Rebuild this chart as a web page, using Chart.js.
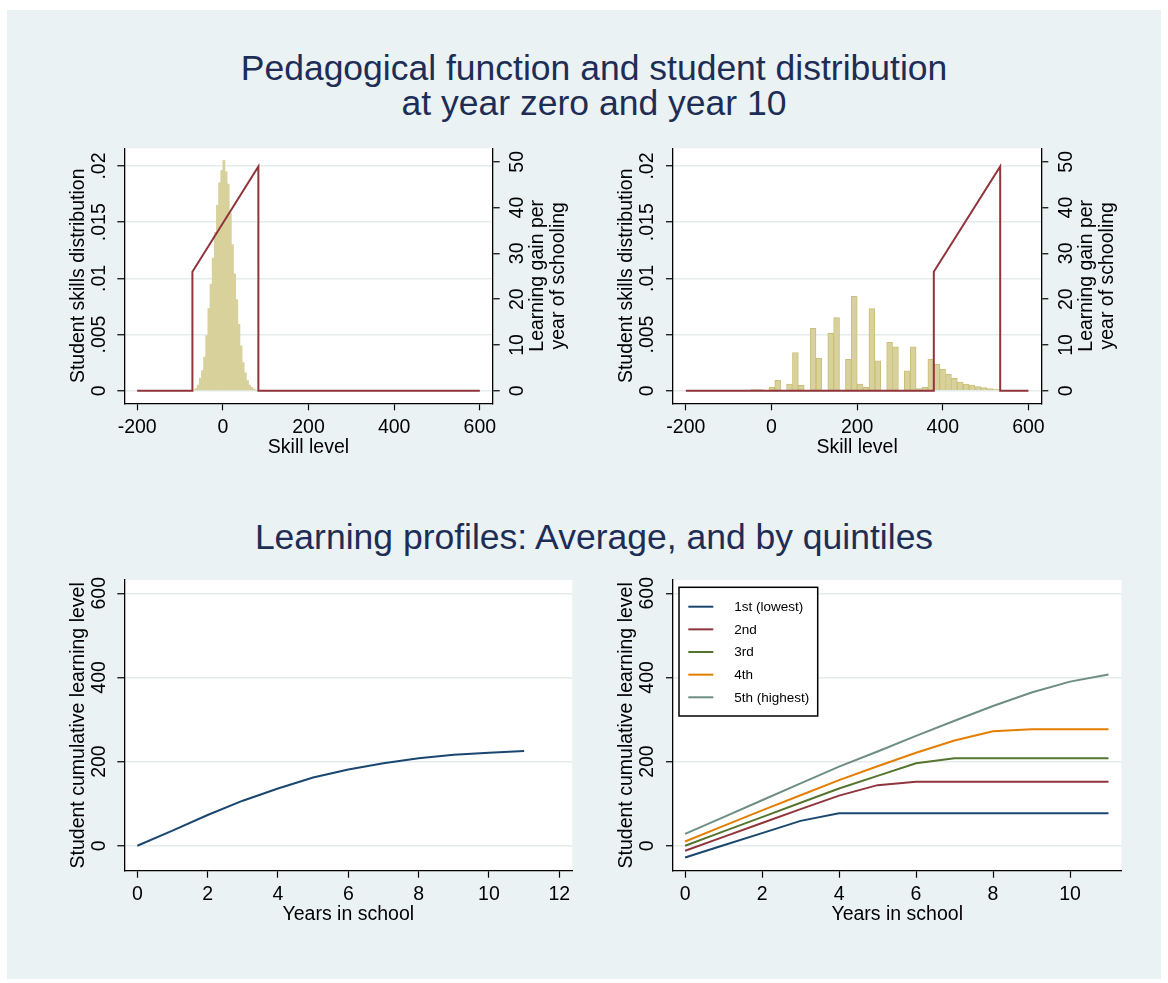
<!DOCTYPE html>
<html>
<head>
<meta charset="utf-8">
<script src="https://cdn.jsdelivr.net/npm/chart.js@4.4.1/dist/chart.umd.min.js"></script>
<style>
  body { margin: 0; background: #fff; width: 1168px; height: 983px; position: relative; overflow: hidden;
         font-family: "Liberation Sans", Arial, sans-serif; }
  #bg { position: absolute; left: 7px; top: 10px; width: 1154px; height: 969px; background: #eaf2f3; }
  .title { position: absolute; left: 0; width: 1188px; text-align: center; color: #1e2d55;
           font-size: 35.5px; line-height: 36px; white-space: nowrap; }
  canvas { position: absolute; }
</style>
</head>
<body>
<div id="bg"></div>
<div class="title" style="top:50px">Pedagogical function and student distribution</div>
<div class="title" style="top:85px">at year zero and year 10</div>
<div class="title" style="top:519px">Learning profiles: Average, and by quintiles</div>
<canvas id="c1" width="560" height="340" style="left:40px;top:140px"></canvas>
<canvas id="c2" width="575" height="340" style="left:590px;top:140px"></canvas>
<canvas id="c3" width="560" height="400" style="left:40px;top:570px"></canvas>
<canvas id="c4" width="570" height="400" style="left:590px;top:570px"></canvas>
<script>
// ---- data ----
const skillTicks = [-200, 0, 200, 400, 600];
const densTicks = [0, 0.005, 0.01, 0.015, 0.02];
const densTickLabels = ['0', '.005', '.01', '.015', '.02'];
const gainTicks = [0, 10, 20, 30, 40, 50];
const levelTicks = [0, 200, 400, 600];
const yearTicksAvg = [0, 2, 4, 6, 8, 10, 12];
const yearTicksQ = [0, 2, 4, 6, 8, 10];

// year zero histogram (bin centres, density)
const skillBins0 = [-67.5, -62.5, -57.5, -52.5, -47.5, -42.5, -37.5, -32.5, -27.5, -22.5,
                    -17.5, -12.5, -7.5, -2.5, 2.5, 7.5, 12.5, 17.5, 22.5, 27.5,
                    32.5, 37.5, 42.5, 47.5, 52.5, 57.5, 62.5, 67.5, 72.5, 77.5];
const density0 = [0.00005, 0.0002, 0.0005, 0.0011, 0.0018, 0.0030, 0.0049, 0.0073, 0.0095, 0.0118,
                  0.0141, 0.0165, 0.0185, 0.0196, 0.0205, 0.0195, 0.0184, 0.0158, 0.0130, 0.0104,
                  0.0081, 0.0059, 0.0040, 0.0025, 0.0016, 0.0009, 0.0005, 0.0003, 0.00015, 0.00005];

// year 10 histogram
const skillBins10 = [-40.5, -26.7, -13, 0.8, 14.5, 28.3, 42, 55.8, 69.5, 83.3,
                     97, 110.8, 124.5, 138.3, 152, 165.8, 179.5, 193.3, 207, 220.8,
                     234.5, 248.3, 262, 275.8, 289.5, 303.3, 317, 330.8, 344.5, 358.3,
                     372, 385.8, 399.5, 413.3, 427, 440.8, 454.5, 468.3, 482, 495.8,
                     509.5, 523.3];
const density10 = [0.0001, 0.0001, 0.00005, 0.0003, 0.00092, 0, 0.0006, 0.0034, 0.00047, 0,
                   0.00555, 0.0029, 0, 0.0051, 0.0065, 0, 0.0028, 0.0084, 0.0006, 0.0003,
                   0.0073, 0.00267, 0, 0.0043, 0.0039, 0, 0.00178, 0.0039, 0.0002, 0.0003,
                   0.0028, 0.00238, 0.00193, 0.00149, 0.00113, 0.00077, 0.0006, 0.00051, 0.00036, 0.00027,
                   0.00018, 0.00015];

// pedagogical function
const pedSkill0 = [-200, -71, -71, 83, 83, 600];
const pedSkill10 = [-200, 379, 379, 534, 534, 600];
const pedGain = [0, 0, 26, 49, 0, 0];

// learning profiles
const years = [0, 1, 2, 3, 4, 5, 6, 7, 8, 9, 10, 11];
const avgLevel = [0, 36, 73, 107, 136, 162, 181, 196, 208, 216, 221, 225];
const quintileNames = ['1st (lowest)', '2nd', '3rd', '4th', '5th (highest)'];
const q1 = [-28, 1, 30, 59, 77, 77, 77, 77, 77, 77, 77, 77];
const q2 = [-12, 21, 54, 87, 119, 144, 152, 152, 152, 152, 152, 152];
const q3 = [0, 34, 68, 102, 136, 166, 196, 208, 208, 208, 208, 208];
const q4 = [10, 47, 84, 120, 156, 189, 221, 250, 272, 277, 277, 277];
const q5 = [28, 68, 108, 148, 188, 224, 261, 297, 332, 364, 390, 407];

// ---- style ----
const FONT = '19.5px "Liberation Sans", Arial, sans-serif';
const AXIS = '#000';
const GRID = '#e4ecee';
const NAVY = '#1a476f', MAROON = '#90353b', GREEN = '#55752f', ORANGE = '#e37e00', TEAL = '#6e8e84';
const qColors = [NAVY, MAROON, GREEN, ORANGE, TEAL];

function pts(xs, ys) {
    return xs.map((x, i) => ({ x: x, y: ys[i] }));
}

function rotText(ctx, text, x, y) {
    ctx.save();
    ctx.translate(x, y);
    ctx.rotate(-Math.PI / 2);
    ctx.fillText(text, 0, 0);
    ctx.restore();
}

// white plot region, rotated tick labels, titles, legend
function decor(spec) {
    return {
        id: 'decor',
        beforeDraw(chart) {
            const a = chart.chartArea, ctx = chart.ctx;
            ctx.save();
            ctx.fillStyle = '#fff';
            ctx.fillRect(a.left, a.top, a.right - a.left, a.bottom - a.top);
            ctx.restore();
        },
        afterDraw(chart) {
            const ctx = chart.ctx, a = chart.chartArea;
            const xs = chart.scales.x, ys = chart.scales.y;
            ctx.save();
            ctx.fillStyle = '#000';
            ctx.font = FONT;
            ctx.textAlign = 'center';
            ctx.textBaseline = 'middle';
            spec.xTicks.forEach(v => ctx.fillText(String(v), xs.getPixelForValue(v), a.bottom + 24));
            ctx.fillText(spec.xTitle, (a.left + a.right) / 2, a.bottom + 44);
            spec.yTicks.forEach((v, i) => rotText(ctx, spec.yLabels[i], a.left - 25, ys.getPixelForValue(v)));
            rotText(ctx, spec.yTitle, a.left - 46, (a.top + a.bottom) / 2);
            if (spec.y2Ticks) {
                const y2 = chart.scales.y2;
                spec.y2Ticks.forEach(v => rotText(ctx, String(v), a.right + 25, y2.getPixelForValue(v)));
                rotText(ctx, spec.y2Title[0], a.right + 45, (a.top + a.bottom) / 2);
                rotText(ctx, spec.y2Title[1], a.right + 66, (a.top + a.bottom) / 2);
            }
            if (spec.legend) {
                const bx = a.left + 6, by = a.top + 7.3, bw = 138.7, bh = 128.7;
                ctx.fillStyle = '#fff';
                ctx.fillRect(bx, by, bw, bh);
                ctx.strokeStyle = '#000';
                ctx.lineWidth = 1.5;
                ctx.strokeRect(bx, by, bw, bh);
                ctx.font = '13.5px "Liberation Sans", Arial, sans-serif';
                ctx.textAlign = 'left';
                chart.data.datasets.forEach((ds, i) => {
                    const y = by + 19.4 + i * 22.65;
                    ctx.strokeStyle = ds.borderColor;
                    ctx.lineWidth = 2;
                    ctx.beginPath();
                    ctx.moveTo(bx + 9.3, y);
                    ctx.lineTo(bx + 34.3, y);
                    ctx.stroke();
                    ctx.fillStyle = '#000';
                    ctx.fillText(ds.label, bx + 55.3, y + 0.5);
                });
            }
            ctx.restore();
        }
    };
}

function xAxis(min, max, ticks, h) {
    return {
        type: 'linear', min: min, max: max, offset: false,
        afterBuildTicks: s => { s.ticks = ticks.map(v => ({ value: v })); },
        afterFit: s => { s.height = h; },
        ticks: { display: false },
        grid: { drawOnChartArea: false, offset: false, tickLength: 7, tickColor: AXIS, tickWidth: 1.2 },
        border: { display: true, color: AXIS, width: 1.3 }
    };
}

function yAxis(min, max, ticks, w, position, drawGrid) {
    return {
        type: 'linear', position: position, min: min, max: max,
        afterBuildTicks: s => { s.ticks = ticks.map(v => ({ value: v })); },
        afterFit: s => { s.width = w; },
        ticks: { display: false },
        grid: { drawOnChartArea: drawGrid, color: GRID, lineWidth: 1.5, tickLength: 7, tickColor: AXIS, tickWidth: 1.2 },
        border: { display: true, color: AXIS, width: 1.3 }
    };
}

const baseOptions = {
    responsive: false,
    animation: false,
    events: [],
    plugins: { legend: { display: false }, tooltip: { enabled: false } }
};

// ---- top panels: histogram + pedagogical function ----
function topPanel(id, bins, dens, pedX, cw, area, barBorder) {
    new Chart(document.getElementById(id), {
        type: 'bar',
        data: {
            datasets: [
                {
                    type: 'line', data: pts(pedX, pedGain), yAxisID: 'y2', order: 0,
                    borderColor: MAROON, borderWidth: 2, pointRadius: 0, tension: 0, fill: false
                },
                {
                    type: 'bar', data: pts(bins, dens), yAxisID: 'y', order: 1,
                    backgroundColor: 'rgb(216,209,155)', borderColor: 'rgb(201,192,120)',
                    borderWidth: barBorder, barPercentage: 1, categoryPercentage: 1
                }
            ]
        },
        options: Object.assign({}, baseOptions, {
            layout: { padding: { top: area.t, right: 0, left: 0, bottom: 0 } },
            scales: {
                x: xAxis(-230, 630, skillTicks, 340 - area.b),
                y: yAxis(-0.00112, 0.021575, densTicks, area.l, 'left', true),
                y2: yAxis(-2.75, 52.95, gainTicks, cw - area.r, 'right', false)
            }
        }),
        plugins: [decor({
            xTicks: skillTicks, xTitle: 'Skill level',
            yTicks: densTicks, yLabels: densTickLabels, yTitle: 'Student skills distribution',
            y2Ticks: gainTicks, y2Title: ['Learning gain per', 'year of schooling']
        })]
    });
}

topPanel('c1', skillBins0, density0, pedSkill0, 560, { l: 84.3, r: 452.7, t: 8.3, b: 263.3 }, 0);
topPanel('c2', skillBins10, density10, pedSkill10, 575, { l: 83, r: 451.3, t: 8.3, b: 263.3 }, 1);

// ---- bottom panels: learning profiles ----
function profilePanel(id, datasets, xmin, xmax, xticks, cw, area, legend) {
    new Chart(document.getElementById(id), {
        type: 'line',
        data: { datasets: datasets },
        options: Object.assign({}, baseOptions, {
            layout: { padding: { top: area.t, right: cw - area.r, left: 0, bottom: 0 } },
            scales: {
                x: xAxis(xmin, xmax, xticks, 400 - area.b),
                y: yAxis(-59.4, 631.6, levelTicks, area.l, 'left', true)
            }
        }),
        plugins: [decor({
            xTicks: xticks, xTitle: 'Years in school',
            yTicks: levelTicks, yLabels: levelTicks.map(String), yTitle: 'Student cumulative learning level',
            legend: legend
        })]
    });
}

function lineSet(label, values, color) {
    return { label: label, data: pts(years, values), borderColor: color, borderWidth: 2,
             pointRadius: 0, tension: 0, fill: false };
}

profilePanel('c3', [lineSet('Average', avgLevel, NAVY)], -0.37, 12.37, yearTicksAvg, 560,
             { l: 84.3, r: 532.3, t: 10, b: 300.7 }, false);

profilePanel('c4', [q1, q2, q3, q4, q5].map((q, i) => lineSet(quintileNames[i], q, qColors[i])),
             -0.314, 11.335, yearTicksQ, 570, { l: 83, r: 531.4, t: 10, b: 300.7 }, true);
</script>
</body>
</html>
